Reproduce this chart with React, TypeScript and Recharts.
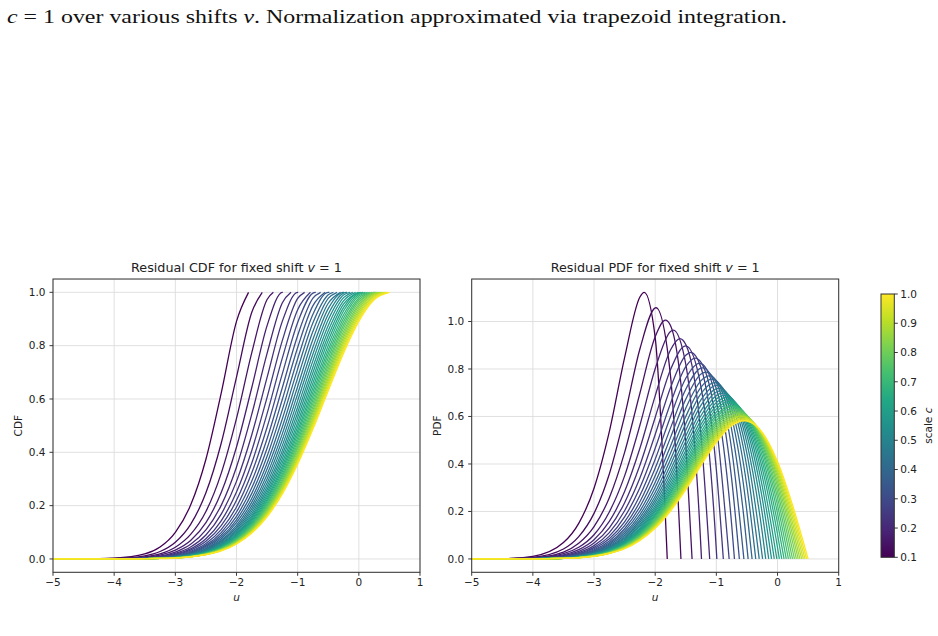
import React from 'react';
import { LineChart, Line, XAxis, YAxis, CartesianGrid } from 'recharts';

// scale values c (one curve per value), shift fixed at v = 1
const scaleC = [
  0.1, 0.125, 0.15, 0.175, 0.2, 0.225, 0.25, 0.275, 0.3, 0.325, 0.35, 0.375, 0.4, 0.425, 0.45, 0.475, 0.5, 0.525, 0.55,
  0.575, 0.6, 0.625, 0.65, 0.675, 0.7, 0.725, 0.75, 0.775, 0.8, 0.825, 0.85, 0.875, 0.9, 0.925, 0.95, 0.975, 1.0,
];

// shared u positions where the curves were read
const uGrid = [-5, -4.5, -4, -3.5, -3.25, -3, -2.75, -2.5, -2.25, -2, -1.75, -1.5, -1.25, -1, -0.75, -0.5, -0.25, 0, 0.25];

// right end of the support of each curve
const uEnd = [
  -1.803, -1.579, -1.397, -1.243, -1.109, -0.992, -0.886, -0.791, -0.704, -0.624, -0.55, -0.481, -0.416, -0.356, -0.299,
  -0.244, -0.193, -0.144, -0.098, -0.053, -0.011, 0.03, 0.069, 0.107, 0.143, 0.178, 0.212, 0.245, 0.277, 0.308, 0.338,
  0.366, 0.395, 0.422, 0.449, 0.475, 0.5,
];

// PDF peak of each curve
const uPeak = [
  -2.18, -1.987, -1.833, -1.704, -1.596, -1.502, -1.419, -1.346, -1.281, -1.222, -1.168, -1.119, -1.074, -1.033, -0.995,
  -0.959, -0.926, -0.895, -0.866, -0.838, -0.813, -0.789, -0.766, -0.745, -0.724, -0.705, -0.687, -0.669, -0.653, -0.636,
  -0.622, -0.607, -0.593, -0.58, -0.567, -0.555, -0.544,
];
const pdfPeak = [
  1.123, 1.058, 1.006, 0.964, 0.928, 0.897, 0.87, 0.846, 0.824, 0.805, 0.787, 0.771, 0.757, 0.743, 0.731, 0.719, 0.708,
  0.698, 0.689, 0.68, 0.671, 0.663, 0.656, 0.649, 0.642, 0.636, 0.63, 0.624, 0.618, 0.613, 0.608, 0.603, 0.599, 0.594,
  0.59, 0.586, 0.582,
];

// CDF values on uGrid (until the end of support)
const cdf_100 = [0, 0, 0.003, 0.019, 0.045, 0.1, 0.202, 0.374, 0.622, 0.891];
const cdf_125 = [0, 0, 0.002, 0.012, 0.028, 0.063, 0.13, 0.248, 0.434, 0.682, 0.925];
const cdf_150 = [0, 0, 0.001, 0.008, 0.019, 0.044, 0.092, 0.178, 0.321, 0.527, 0.774, 0.973];
const cdf_175 = [0, 0, 0.001, 0.006, 0.014, 0.033, 0.069, 0.136, 0.249, 0.42, 0.643, 0.875, 1.0];
const cdf_200 = [0, 0, 0.001, 0.005, 0.011, 0.026, 0.055, 0.109, 0.201, 0.345, 0.543, 0.771, 0.961];
const cdf_225 = [0, 0, 0.001, 0.004, 0.009, 0.021, 0.045, 0.09, 0.168, 0.291, 0.466, 0.681, 0.892, 1.0];
const cdf_250 = [0, 0, 0, 0.003, 0.008, 0.018, 0.038, 0.076, 0.143, 0.251, 0.407, 0.606, 0.82, 0.977];
const cdf_275 = [0, 0, 0, 0.003, 0.007, 0.015, 0.033, 0.066, 0.125, 0.22, 0.36, 0.545, 0.754, 0.935];
const cdf_300 = [0, 0, 0, 0.002, 0.006, 0.013, 0.029, 0.058, 0.11, 0.195, 0.323, 0.494, 0.695, 0.887, 0.997];
const cdf_325 = [0, 0, 0, 0.002, 0.005, 0.012, 0.026, 0.052, 0.099, 0.176, 0.292, 0.451, 0.643, 0.838, 0.978];
const cdf_350 = [0, 0, 0, 0.002, 0.005, 0.011, 0.023, 0.047, 0.09, 0.16, 0.267, 0.415, 0.599, 0.793, 0.95];
const cdf_375 = [0, 0, 0, 0.002, 0.004, 0.01, 0.021, 0.043, 0.082, 0.147, 0.246, 0.385, 0.56, 0.751, 0.918, 1.0];
const cdf_400 = [0, 0, 0, 0.002, 0.004, 0.009, 0.019, 0.039, 0.076, 0.136, 0.228, 0.359, 0.526, 0.713, 0.886, 0.991];
const cdf_425 = [0, 0, 0, 0.001, 0.004, 0.008, 0.018, 0.037, 0.07, 0.126, 0.213, 0.337, 0.496, 0.679, 0.854, 0.977];
const cdf_450 = [0, 0, 0, 0.001, 0.003, 0.008, 0.017, 0.034, 0.066, 0.118, 0.2, 0.317, 0.47, 0.647, 0.824, 0.959];
const cdf_475 = [0, 0, 0, 0.001, 0.003, 0.007, 0.016, 0.032, 0.062, 0.111, 0.189, 0.3, 0.447, 0.619, 0.795, 0.939, 1.0];
const cdf_500 = [0, 0, 0, 0.001, 0.003, 0.007, 0.015, 0.03, 0.058, 0.105, 0.179, 0.285, 0.426, 0.594, 0.769, 0.918, 0.997];
const cdf_525 = [0, 0, 0, 0.001, 0.003, 0.006, 0.014, 0.029, 0.055, 0.1, 0.17, 0.272, 0.407, 0.57, 0.744, 0.897, 0.99];
const cdf_550 = [0, 0, 0, 0.001, 0.003, 0.006, 0.013, 0.027, 0.052, 0.095, 0.162, 0.26, 0.391, 0.549, 0.72, 0.876, 0.98];
const cdf_575 = [0, 0, 0, 0.001, 0.002, 0.006, 0.013, 0.026, 0.05, 0.091, 0.155, 0.249, 0.376, 0.53, 0.699, 0.856, 0.968];
const cdf_600 = [0, 0, 0, 0.001, 0.002, 0.006, 0.012, 0.025, 0.048, 0.087, 0.149, 0.24, 0.362, 0.512, 0.679, 0.837, 0.956];
const cdf_625 = [0, 0, 0, 0.001, 0.002, 0.005, 0.012, 0.024, 0.046, 0.084, 0.143, 0.231, 0.349, 0.496, 0.66, 0.819, 0.943, 0.999];
const cdf_650 = [0, 0, 0, 0.001, 0.002, 0.005, 0.011, 0.023, 0.044, 0.08, 0.138, 0.223, 0.338, 0.481, 0.642, 0.801, 0.93, 0.996];
const cdf_675 = [0, 0, 0, 0.001, 0.002, 0.005, 0.011, 0.022, 0.043, 0.078, 0.133, 0.216, 0.328, 0.468, 0.626, 0.784, 0.916, 0.992];
const cdf_700 = [0, 0, 0, 0.001, 0.002, 0.005, 0.01, 0.021, 0.041, 0.075, 0.129, 0.209, 0.318, 0.455, 0.611, 0.769, 0.903, 0.986];
const cdf_725 = [0, 0, 0, 0.001, 0.002, 0.005, 0.01, 0.021, 0.04, 0.073, 0.125, 0.203, 0.309, 0.443, 0.597, 0.754, 0.89, 0.979];
const cdf_750 = [0, 0, 0, 0.001, 0.002, 0.004, 0.01, 0.02, 0.039, 0.071, 0.122, 0.197, 0.301, 0.432, 0.584, 0.739, 0.877, 0.972];
const cdf_775 = [0, 0, 0, 0.001, 0.002, 0.004, 0.009, 0.019, 0.037, 0.069, 0.118, 0.192, 0.293, 0.422, 0.571, 0.726, 0.865, 0.964];
const cdf_800 = [0, 0, 0, 0.001, 0.002, 0.004, 0.009, 0.019, 0.036, 0.067, 0.115, 0.187, 0.286, 0.413, 0.559, 0.713, 0.853, 0.956, 1.0];
const cdf_825 = [0, 0, 0, 0.001, 0.002, 0.004, 0.009, 0.018, 0.036, 0.065, 0.112, 0.183, 0.28, 0.404, 0.549, 0.701, 0.842, 0.948, 0.998];
const cdf_850 = [0, 0, 0, 0.001, 0.002, 0.004, 0.009, 0.018, 0.035, 0.063, 0.11, 0.178, 0.274, 0.395, 0.538, 0.689, 0.831, 0.94, 0.996];
const cdf_875 = [0, 0, 0, 0.001, 0.002, 0.004, 0.008, 0.017, 0.034, 0.062, 0.107, 0.174, 0.268, 0.388, 0.528, 0.679, 0.82, 0.931, 0.993];
const cdf_900 = [0, 0, 0, 0.001, 0.002, 0.004, 0.008, 0.017, 0.033, 0.061, 0.105, 0.171, 0.263, 0.38, 0.519, 0.668, 0.81, 0.923, 0.989];
const cdf_925 = [0, 0, 0, 0.001, 0.002, 0.004, 0.008, 0.017, 0.032, 0.059, 0.103, 0.167, 0.257, 0.373, 0.511, 0.658, 0.8, 0.915, 0.985];
const cdf_950 = [0, 0, 0, 0.001, 0.002, 0.004, 0.008, 0.016, 0.032, 0.058, 0.101, 0.164, 0.253, 0.367, 0.502, 0.649, 0.79, 0.907, 0.981];
const cdf_975 = [0, 0, 0, 0.001, 0.002, 0.004, 0.008, 0.016, 0.031, 0.057, 0.099, 0.161, 0.248, 0.361, 0.495, 0.64, 0.781, 0.899, 0.976];
const cdf_1000 = [0, 0, 0, 0.001, 0.001, 0.003, 0.008, 0.016, 0.03, 0.056, 0.097, 0.158, 0.244, 0.355, 0.487, 0.631, 0.772, 0.891, 0.972];

// PDF values on uGrid (until the end of support)
const pdf_100 = [0, 0.001, 0.011, 0.069, 0.15, 0.298, 0.536, 0.848, 1.103, 0.932];
const pdf_125 = [0, 0.001, 0.007, 0.042, 0.094, 0.192, 0.358, 0.602, 0.884, 1.057, 0.772];
const pdf_150 = [0, 0.001, 0.005, 0.029, 0.066, 0.136, 0.258, 0.449, 0.698, 0.936, 0.983, 0.485];
const pdf_175 = [0, 0, 0.004, 0.022, 0.049, 0.102, 0.198, 0.35, 0.563, 0.801, 0.958, 0.82, 0.036];
const pdf_200 = [0, 0, 0.003, 0.017, 0.039, 0.081, 0.158, 0.284, 0.466, 0.687, 0.88, 0.903, 0.517];
const pdf_225 = [0, 0, 0.002, 0.014, 0.032, 0.067, 0.131, 0.237, 0.395, 0.596, 0.797, 0.897, 0.723, 0.035];
const pdf_250 = [0, 0, 0.002, 0.012, 0.027, 0.056, 0.111, 0.203, 0.341, 0.524, 0.721, 0.858, 0.805, 0.376];
const pdf_275 = [0, 0, 0.002, 0.01, 0.023, 0.049, 0.096, 0.177, 0.3, 0.466, 0.655, 0.81, 0.828, 0.562];
const pdf_300 = [0, 0, 0.001, 0.009, 0.02, 0.043, 0.085, 0.156, 0.267, 0.42, 0.599, 0.761, 0.823, 0.664, 0.145];
const pdf_325 = [0, 0, 0.001, 0.008, 0.018, 0.038, 0.076, 0.14, 0.241, 0.382, 0.551, 0.715, 0.804, 0.717, 0.337];
const pdf_350 = [0, 0, 0.001, 0.007, 0.016, 0.034, 0.068, 0.127, 0.22, 0.35, 0.511, 0.673, 0.779, 0.743, 0.463];
const pdf_375 = [0, 0, 0.001, 0.006, 0.015, 0.031, 0.063, 0.117, 0.202, 0.323, 0.475, 0.635, 0.751, 0.751, 0.545, 0.051];
const pdf_400 = [0, 0, 0.001, 0.006, 0.013, 0.029, 0.058, 0.108, 0.187, 0.301, 0.445, 0.6, 0.724, 0.75, 0.599, 0.198];
const pdf_425 = [0, 0, 0.001, 0.005, 0.012, 0.027, 0.053, 0.1, 0.174, 0.281, 0.419, 0.57, 0.697, 0.742, 0.633, 0.305];
const pdf_450 = [0, 0, 0.001, 0.005, 0.012, 0.025, 0.05, 0.093, 0.163, 0.264, 0.396, 0.542, 0.671, 0.731, 0.655, 0.385];
const pdf_475 = [0, 0, 0.001, 0.005, 0.011, 0.023, 0.047, 0.088, 0.154, 0.25, 0.375, 0.518, 0.648, 0.717, 0.668, 0.444, 0.012];
const pdf_500 = [0, 0, 0.001, 0.004, 0.01, 0.022, 0.044, 0.083, 0.145, 0.237, 0.357, 0.496, 0.625, 0.703, 0.675, 0.488, 0.112];
const pdf_525 = [0, 0, 0.001, 0.004, 0.01, 0.021, 0.042, 0.078, 0.138, 0.225, 0.341, 0.476, 0.604, 0.688, 0.677, 0.521, 0.192];
const pdf_550 = [0, 0, 0.001, 0.004, 0.009, 0.02, 0.04, 0.075, 0.131, 0.215, 0.327, 0.457, 0.585, 0.674, 0.676, 0.546, 0.256];
const pdf_575 = [0, 0, 0.001, 0.004, 0.009, 0.019, 0.038, 0.071, 0.126, 0.206, 0.314, 0.441, 0.567, 0.659, 0.673, 0.564, 0.307];
const pdf_600 = [0, 0, 0.001, 0.004, 0.008, 0.018, 0.036, 0.068, 0.12, 0.198, 0.302, 0.426, 0.551, 0.645, 0.668, 0.578, 0.349];
const pdf_625 = [0, 0, 0.001, 0.003, 0.008, 0.017, 0.035, 0.065, 0.116, 0.19, 0.291, 0.412, 0.535, 0.632, 0.662, 0.588, 0.383, 0.048];
const pdf_650 = [0, 0, 0.001, 0.003, 0.008, 0.016, 0.033, 0.063, 0.111, 0.184, 0.281, 0.399, 0.521, 0.619, 0.656, 0.595, 0.411, 0.104];
const pdf_675 = [0, 0, 0, 0.003, 0.007, 0.016, 0.032, 0.061, 0.108, 0.178, 0.273, 0.388, 0.508, 0.606, 0.649, 0.6, 0.434, 0.151];
const pdf_700 = [0, 0, 0, 0.003, 0.007, 0.015, 0.031, 0.059, 0.104, 0.172, 0.264, 0.377, 0.495, 0.595, 0.642, 0.602, 0.454, 0.192];
const pdf_725 = [0, 0, 0, 0.003, 0.007, 0.015, 0.03, 0.057, 0.101, 0.167, 0.257, 0.367, 0.484, 0.583, 0.634, 0.604, 0.469, 0.227];
const pdf_750 = [0, 0, 0, 0.003, 0.007, 0.014, 0.029, 0.055, 0.098, 0.162, 0.25, 0.358, 0.473, 0.573, 0.627, 0.604, 0.482, 0.257];
const pdf_775 = [0, 0, 0, 0.003, 0.006, 0.014, 0.028, 0.054, 0.095, 0.158, 0.243, 0.349, 0.463, 0.563, 0.62, 0.604, 0.493, 0.283];
const pdf_800 = [0, 0, 0, 0.003, 0.006, 0.014, 0.027, 0.052, 0.093, 0.154, 0.237, 0.341, 0.453, 0.553, 0.613, 0.603, 0.502, 0.306, 0.032];
const pdf_825 = [0, 0, 0, 0.003, 0.006, 0.013, 0.027, 0.051, 0.09, 0.15, 0.232, 0.334, 0.444, 0.544, 0.605, 0.601, 0.509, 0.325, 0.067];
const pdf_850 = [0, 0, 0, 0.003, 0.006, 0.013, 0.026, 0.049, 0.088, 0.146, 0.227, 0.327, 0.436, 0.535, 0.599, 0.599, 0.515, 0.343, 0.097];
const pdf_875 = [0, 0, 0, 0.002, 0.006, 0.013, 0.025, 0.048, 0.086, 0.143, 0.222, 0.32, 0.428, 0.527, 0.592, 0.596, 0.52, 0.358, 0.124];
const pdf_900 = [0, 0, 0, 0.002, 0.006, 0.012, 0.025, 0.047, 0.084, 0.14, 0.217, 0.314, 0.42, 0.519, 0.585, 0.594, 0.524, 0.371, 0.148];
const pdf_925 = [0, 0, 0, 0.002, 0.006, 0.012, 0.024, 0.046, 0.082, 0.137, 0.213, 0.308, 0.413, 0.511, 0.579, 0.591, 0.527, 0.383, 0.17];
const pdf_950 = [0, 0, 0, 0.002, 0.005, 0.012, 0.024, 0.045, 0.081, 0.134, 0.209, 0.303, 0.406, 0.504, 0.573, 0.588, 0.529, 0.393, 0.19];
const pdf_975 = [0, 0, 0, 0.002, 0.005, 0.011, 0.023, 0.044, 0.079, 0.132, 0.205, 0.297, 0.4, 0.497, 0.567, 0.584, 0.531, 0.402, 0.207];
const pdf_1000 = [0, 0, 0, 0.002, 0.005, 0.011, 0.023, 0.043, 0.078, 0.129, 0.202, 0.292, 0.394, 0.491, 0.561, 0.581, 0.533, 0.41, 0.223];

const cdfCurves = [
  cdf_100, cdf_125, cdf_150, cdf_175, cdf_200, cdf_225, cdf_250, cdf_275, cdf_300, cdf_325, cdf_350, cdf_375, cdf_400,
  cdf_425, cdf_450, cdf_475, cdf_500, cdf_525, cdf_550, cdf_575, cdf_600, cdf_625, cdf_650, cdf_675, cdf_700, cdf_725,
  cdf_750, cdf_775, cdf_800, cdf_825, cdf_850, cdf_875, cdf_900, cdf_925, cdf_950, cdf_975, cdf_1000,
];
const pdfCurves = [
  pdf_100, pdf_125, pdf_150, pdf_175, pdf_200, pdf_225, pdf_250, pdf_275, pdf_300, pdf_325, pdf_350, pdf_375, pdf_400,
  pdf_425, pdf_450, pdf_475, pdf_500, pdf_525, pdf_550, pdf_575, pdf_600, pdf_625, pdf_650, pdf_675, pdf_700, pdf_725,
  pdf_750, pdf_775, pdf_800, pdf_825, pdf_850, pdf_875, pdf_900, pdf_925, pdf_950, pdf_975, pdf_1000,
];

// tick labels
const xTicks = [-5, -4, -3, -2, -1, 0, 1];
const cdfTicks = [0, 0.2, 0.4, 0.6, 0.8, 1.0];
const pdfTicks = [0, 0.2, 0.4, 0.6, 0.8, 1.0];
const colorTicks = [0.1, 0.2, 0.3, 0.4, 0.5, 0.6, 0.7, 0.8, 0.9, 1.0];

const viridisStops = ['#440154', '#482475', '#414487', '#355f8d', '#2a788e', '#21918c', '#22a884', '#44bf70', '#7ad151', '#bddf26', '#fde725'];

function hexToRgb(h: string) {
  return [1, 3, 5].map((i) => parseInt(h.slice(i, i + 2), 16));
}
function viridis(t: number) {
  const x = Math.max(0, Math.min(1, t)) * (viridisStops.length - 1);
  const i = Math.min(Math.floor(x), viridisStops.length - 2);
  const f = x - i;
  const a = hexToRgb(viridisStops[i]);
  const b = hexToRgb(viridisStops[i + 1]);
  const c = a.map((v, k) => Math.round(v + (b[k] - v) * f));
  return `rgb(${c[0]},${c[1]},${c[2]})`;
}

const C_MIN = 0.1;
const C_MAX = 1.0;

const cdfSeries = scaleC.map((c, i) => {
  const pts = cdfCurves[i].map((y, j) => ({ u: uGrid[j], y }));
  pts.push({ u: uEnd[i], y: 1 });
  return { c, color: viridis((c - C_MIN) / (C_MAX - C_MIN)), pts };
});

const pdfSeries = scaleC.map((c, i) => {
  const pts = pdfCurves[i].map((y, j) => ({ u: uGrid[j], y }));
  pts.push({ u: uPeak[i], y: pdfPeak[i] });
  pts.sort((p, q) => p.u - q.u);
  pts.push({ u: uEnd[i], y: 0 });
  return { c, color: viridis((c - C_MIN) / (C_MAX - C_MIN)), pts };
});

const PLOT_TOP = 279;
const PLOT_H = 293.3;
const X_AXIS_H = 30;
const RIGHT_PAD = 10;
const TXT = '#222';
const FONT = 'DejaVu Sans, sans-serif';

const fmtX = (v: number) => (v < 0 ? `\u2212${Math.abs(v)}` : `${v}`);
const fmtY = (v: number) => v.toFixed(1);

type PanelProps = {
  left: number;
  yWidth: number;
  plotW: number;
  yDomain: [number, number];
  yTicks: number[];
  series: { c: number; color: string; pts: { u: number; y: number }[] }[];
};

function Panel({ left, yWidth, plotW, yDomain, yTicks, series }: PanelProps) {
  return (
    <div style={{ position: 'absolute', left, top: PLOT_TOP }}>
      <LineChart
        width={yWidth + plotW + RIGHT_PAD}
        height={PLOT_H + X_AXIS_H}
        margin={{ top: 0, right: RIGHT_PAD, bottom: 0, left: 0 }}
        style={{ fontFamily: FONT }}
      >
        <CartesianGrid stroke="#dcdcdc" strokeWidth={0.9} />
        <XAxis
          type="number"
          dataKey="u"
          domain={[-5, 1]}
          ticks={xTicks}
          interval={0}
          allowDataOverflow
          height={X_AXIS_H}
          axisLine={false}
          tickSize={3.5}
          tickMargin={3}
          tickLine={{ stroke: TXT, strokeWidth: 0.9 }}
          tick={{ fill: TXT, fontSize: 10.5 }}
          tickFormatter={fmtX}
        />
        <YAxis
          type="number"
          domain={yDomain}
          ticks={yTicks}
          interval={0}
          allowDataOverflow
          width={yWidth}
          axisLine={false}
          tickSize={3.5}
          tickMargin={4}
          tickLine={{ stroke: TXT, strokeWidth: 0.9 }}
          tick={{ fill: TXT, fontSize: 10.5 }}
          tickFormatter={fmtY}
        />
        {series.map((s) => (
          <Line
            key={s.c}
            data={s.pts}
            dataKey="y"
            type="monotone"
            stroke={s.color}
            strokeWidth={1.3}
            dot={false}
            activeDot={false}
            isAnimationActive={false}
          />
        ))}
      </LineChart>
    </div>
  );
}

const LEFT_X0 = 53;
const RIGHT_X0 = 471.7;
const PLOT_W = 367;
const CB_X = 881;
const CB_Y0 = 294;
const CB_Y1 = 557.3;
const CB_W = 13.3;

export default function App() {
  const cbY = (v: number) => CB_Y1 - ((v - C_MIN) / (C_MAX - C_MIN)) * (CB_Y1 - CB_Y0);
  return (
    <div style={{ position: 'absolute', left: 0, top: 0, width: 938, height: 636, background: '#fff', overflow: 'hidden' }}>
      <Panel left={0} yWidth={LEFT_X0} plotW={PLOT_W} yDomain={[-0.05, 1.05]} yTicks={cdfTicks} series={cdfSeries} />
      <Panel left={420} yWidth={RIGHT_X0 - 420} plotW={PLOT_W} yDomain={[-0.0562, 1.179]} yTicks={pdfTicks} series={pdfSeries} />
      <svg width={938} height={636} style={{ position: 'absolute', left: 0, top: 0, pointerEvents: 'none' }}>
        <defs>
          <linearGradient id="viridisBar" x1="0" y1="1" x2="0" y2="0">
            {viridisStops.map((col, i) => (
              <stop key={i} offset={`${(i / (viridisStops.length - 1)) * 100}%`} stopColor={col} />
            ))}
          </linearGradient>
        </defs>

        <text x={7} y={23} fontFamily="Liberation Serif, serif" fontSize={19} fill="#111" textLength={780} lengthAdjust="spacingAndGlyphs">
          <tspan fontStyle="italic">c</tspan> = 1 over various shifts <tspan fontStyle="italic">v</tspan>. Normalization approximated via trapezoid integration.
        </text>

        {/* frames */}
        <rect x={LEFT_X0} y={PLOT_TOP} width={PLOT_W} height={PLOT_H} fill="none" stroke="#333" strokeWidth={1} />
        <rect x={RIGHT_X0} y={PLOT_TOP} width={PLOT_W} height={PLOT_H} fill="none" stroke="#333" strokeWidth={1} />

        {/* titles */}
        <text x={LEFT_X0 + PLOT_W / 2} y={272} textAnchor="middle" fontFamily={FONT} fontSize={12.3} fill={TXT} textLength={211} lengthAdjust="spacingAndGlyphs">
          Residual CDF for fixed shift <tspan fontStyle="italic">v</tspan> = 1
        </text>
        <text x={RIGHT_X0 + PLOT_W / 2} y={272} textAnchor="middle" fontFamily={FONT} fontSize={12.3} fill={TXT} textLength={209} lengthAdjust="spacingAndGlyphs">
          Residual PDF for fixed shift <tspan fontStyle="italic">v</tspan> = 1
        </text>

        {/* axis labels */}
        <text transform={`translate(22, ${PLOT_TOP + PLOT_H / 2}) rotate(-90)`} textAnchor="middle" fontFamily={FONT} fontSize={10.5} fill={TXT}>CDF</text>
        <text transform={`translate(441, ${PLOT_TOP + PLOT_H / 2}) rotate(-90)`} textAnchor="middle" fontFamily={FONT} fontSize={10.5} fill={TXT}>PDF</text>
        <text x={LEFT_X0 + PLOT_W / 2} y={601} textAnchor="middle" fontFamily={FONT} fontSize={10.5} fontStyle="italic" fill={TXT}>u</text>
        <text x={RIGHT_X0 + PLOT_W / 2} y={601} textAnchor="middle" fontFamily={FONT} fontSize={10.5} fontStyle="italic" fill={TXT}>u</text>

        {/* colorbar */}
        <rect x={CB_X} y={CB_Y0} width={CB_W} height={CB_Y1 - CB_Y0} fill="url(#viridisBar)" stroke="#333" strokeWidth={1} />
        {colorTicks.map((v) => (
          <g key={v}>
            <line x1={CB_X + CB_W} x2={CB_X + CB_W + 3.5} y1={cbY(v)} y2={cbY(v)} stroke={TXT} strokeWidth={0.9} />
            <text x={CB_X + CB_W + 6} y={cbY(v)} dy="0.36em" fontFamily={FONT} fontSize={10.5} fill={TXT}>{v.toFixed(1)}</text>
          </g>
        ))}
        <text transform={`translate(932, ${(CB_Y0 + CB_Y1) / 2}) rotate(-90)`} textAnchor="middle" fontFamily={FONT} fontSize={10.5} fill={TXT}>
          scale <tspan fontStyle="italic">c</tspan>
        </text>
      </svg>
    </div>
  );
}
